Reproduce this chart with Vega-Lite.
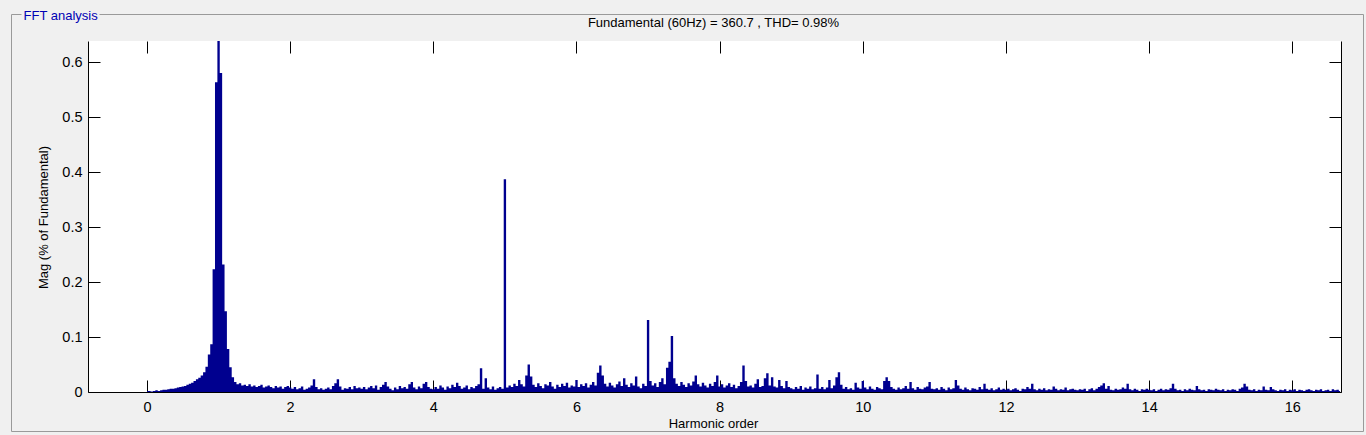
{
"$schema": "https://vega.github.io/schema/vega-lite/v6.json",
"width": 1253,
"height": 351,
"autosize": {"type": "none"},
"padding": {"left": 88, "top": 41, "right": 25, "bottom": 43},
"background": "#f0f0f0",
"config": {
  "view": {"fill": "white", "stroke": null},
  "axis": {"labelFont": "Liberation Sans", "titleFont": "Liberation Sans", "labelFontSize": 14.5, "titleFontSize": 13, "labelColor": "#000", "titleColor": "#000", "tickColor": "#000", "domainColor": "#000", "titleFontWeight": "normal", "grid": false, "tickWidth": 1, "domainWidth": 1}
},
"data": {"values": [
{"h":0,"m":0.002},{"h":0.033,"m":0.002},{"h":0.067,"m":0.001},{"h":0.1,"m":0.002},{"h":0.133,"m":0.003},{"h":0.167,"m":0.002},{"h":0.2,"m":0.003},{"h":0.233,"m":0.004},{"h":0.267,"m":0.004},{"h":0.3,"m":0.005},{"h":0.333,"m":0.006},{"h":0.367,"m":0.006},{"h":0.4,"m":0.007},{"h":0.433,"m":0.008},{"h":0.467,"m":0.009},{"h":0.5,"m":0.01},{"h":0.533,"m":0.011},{"h":0.567,"m":0.013},{"h":0.6,"m":0.015},{"h":0.633,"m":0.017},{"h":0.667,"m":0.02},{"h":0.7,"m":0.023},{"h":0.733,"m":0.026},{"h":0.767,"m":0.03},{"h":0.8,"m":0.036},{"h":0.833,"m":0.046},{"h":0.867,"m":0.068},{"h":0.9,"m":0.087},{"h":0.933,"m":0.223},{"h":0.967,"m":0.563},
{"h":1,"m":100},{"h":1.033,"m":0.58},{"h":1.067,"m":0.232},{"h":1.1,"m":0.147},{"h":1.133,"m":0.078},{"h":1.167,"m":0.045},{"h":1.2,"m":0.027},{"h":1.233,"m":0.018},{"h":1.267,"m":0.014},{"h":1.3,"m":0.016},{"h":1.333,"m":0.012},{"h":1.367,"m":0.013},{"h":1.4,"m":0.011},{"h":1.433,"m":0.014},{"h":1.467,"m":0.01},{"h":1.5,"m":0.012},{"h":1.533,"m":0.009},{"h":1.567,"m":0.011},{"h":1.6,"m":0.013},{"h":1.633,"m":0.008},{"h":1.667,"m":0.01},{"h":1.7,"m":0.012},{"h":1.733,"m":0.009},{"h":1.767,"m":0.007},{"h":1.8,"m":0.011},{"h":1.833,"m":0.008},{"h":1.867,"m":0.01},{"h":1.9,"m":0.006},{"h":1.933,"m":0.009},{"h":1.967,"m":0.011},
{"h":2,"m":0.008},{"h":2.033,"m":0.006},{"h":2.067,"m":0.009},{"h":2.1,"m":0.005},{"h":2.133,"m":0.007},{"h":2.167,"m":0.01},{"h":2.2,"m":0.004},{"h":2.233,"m":0.006},{"h":2.267,"m":0.008},{"h":2.3,"m":0.012},{"h":2.333,"m":0.023},{"h":2.367,"m":0.009},{"h":2.4,"m":0.005},{"h":2.433,"m":0.007},{"h":2.467,"m":0.004},{"h":2.5,"m":0.006},{"h":2.533,"m":0.008},{"h":2.567,"m":0.005},{"h":2.6,"m":0.011},{"h":2.633,"m":0.016},{"h":2.667,"m":0.023},{"h":2.7,"m":0.01},{"h":2.733,"m":0.004},{"h":2.767,"m":0.007},{"h":2.8,"m":0.006},{"h":2.833,"m":0.009},{"h":2.867,"m":0.005},{"h":2.9,"m":0.011},{"h":2.933,"m":0.007},{"h":2.967,"m":0.008},
{"h":3,"m":0.006},{"h":3.033,"m":0.009},{"h":3.067,"m":0.005},{"h":3.1,"m":0.008},{"h":3.133,"m":0.011},{"h":3.167,"m":0.007},{"h":3.2,"m":0.012},{"h":3.233,"m":0.004},{"h":3.267,"m":0.009},{"h":3.3,"m":0.013},{"h":3.333,"m":0.018},{"h":3.367,"m":0.01},{"h":3.4,"m":0.006},{"h":3.433,"m":0.003},{"h":3.467,"m":0.008},{"h":3.5,"m":0.005},{"h":3.533,"m":0.011},{"h":3.567,"m":0.007},{"h":3.6,"m":0.009},{"h":3.633,"m":0.006},{"h":3.667,"m":0.014},{"h":3.7,"m":0.018},{"h":3.733,"m":0.008},{"h":3.767,"m":0.005},{"h":3.8,"m":0.01},{"h":3.833,"m":0.007},{"h":3.867,"m":0.015},{"h":3.9,"m":0.018},{"h":3.933,"m":0.009},{"h":3.967,"m":0.006},
{"h":4,"m":0.005},{"h":4.033,"m":0.009},{"h":4.067,"m":0.006},{"h":4.1,"m":0.012},{"h":4.133,"m":0.008},{"h":4.167,"m":0.004},{"h":4.2,"m":0.01},{"h":4.233,"m":0.007},{"h":4.267,"m":0.013},{"h":4.3,"m":0.009},{"h":4.333,"m":0.017},{"h":4.367,"m":0.011},{"h":4.4,"m":0.006},{"h":4.433,"m":0.008},{"h":4.467,"m":0.012},{"h":4.5,"m":0.005},{"h":4.533,"m":0.009},{"h":4.567,"m":0.007},{"h":4.6,"m":0.011},{"h":4.633,"m":0.014},{"h":4.667,"m":0.043},{"h":4.7,"m":0.006},{"h":4.733,"m":0.025},{"h":4.767,"m":0.008},{"h":4.8,"m":0.005},{"h":4.833,"m":0.01},{"h":4.867,"m":0.004},{"h":4.9,"m":0.007},{"h":4.933,"m":0.009},{"h":4.967,"m":0.006},
{"h":5,"m":0.387},{"h":5.033,"m":0.008},{"h":5.067,"m":0.012},{"h":5.1,"m":0.009},{"h":5.133,"m":0.015},{"h":5.167,"m":0.011},{"h":5.2,"m":0.022},{"h":5.233,"m":0.014},{"h":5.267,"m":0.01},{"h":5.3,"m":0.03},{"h":5.333,"m":0.05},{"h":5.367,"m":0.028},{"h":5.4,"m":0.013},{"h":5.433,"m":0.009},{"h":5.467,"m":0.016},{"h":5.5,"m":0.011},{"h":5.533,"m":0.007},{"h":5.567,"m":0.014},{"h":5.6,"m":0.012},{"h":5.633,"m":0.018},{"h":5.667,"m":0.01},{"h":5.7,"m":0.006},{"h":5.733,"m":0.013},{"h":5.767,"m":0.009},{"h":5.8,"m":0.015},{"h":5.833,"m":0.011},{"h":5.867,"m":0.017},{"h":5.9,"m":0.008},{"h":5.933,"m":0.012},{"h":5.967,"m":0.01},
{"h":6,"m":0.022},{"h":6.033,"m":0.009},{"h":6.067,"m":0.014},{"h":6.1,"m":0.011},{"h":6.133,"m":0.016},{"h":6.167,"m":0.008},{"h":6.2,"m":0.013},{"h":6.233,"m":0.018},{"h":6.267,"m":0.012},{"h":6.3,"m":0.035},{"h":6.333,"m":0.048},{"h":6.367,"m":0.03},{"h":6.4,"m":0.015},{"h":6.433,"m":0.01},{"h":6.467,"m":0.017},{"h":6.5,"m":0.012},{"h":6.533,"m":0.008},{"h":6.567,"m":0.014},{"h":6.6,"m":0.019},{"h":6.633,"m":0.011},{"h":6.667,"m":0.025},{"h":6.7,"m":0.013},{"h":6.733,"m":0.009},{"h":6.767,"m":0.016},{"h":6.8,"m":0.012},{"h":6.833,"m":0.028},{"h":6.867,"m":0.01},{"h":6.9,"m":0.007},{"h":6.933,"m":0.015},{"h":6.967,"m":0.011},
{"h":7,"m":0.131},{"h":7.033,"m":0.02},{"h":7.067,"m":0.012},{"h":7.1,"m":0.016},{"h":7.133,"m":0.009},{"h":7.167,"m":0.018},{"h":7.2,"m":0.025},{"h":7.233,"m":0.014},{"h":7.267,"m":0.044},{"h":7.3,"m":0.055},{"h":7.333,"m":0.102},{"h":7.367,"m":0.025},{"h":7.4,"m":0.015},{"h":7.433,"m":0.011},{"h":7.467,"m":0.018},{"h":7.5,"m":0.013},{"h":7.533,"m":0.009},{"h":7.567,"m":0.016},{"h":7.6,"m":0.012},{"h":7.633,"m":0.019},{"h":7.667,"m":0.03},{"h":7.7,"m":0.014},{"h":7.733,"m":0.01},{"h":7.767,"m":0.017},{"h":7.8,"m":0.012},{"h":7.833,"m":0.008},{"h":7.867,"m":0.015},{"h":7.9,"m":0.011},{"h":7.933,"m":0.018},{"h":7.967,"m":0.03},
{"h":8,"m":0.01},{"h":8.033,"m":0.014},{"h":8.067,"m":0.008},{"h":8.1,"m":0.012},{"h":8.133,"m":0.016},{"h":8.167,"m":0.009},{"h":8.2,"m":0.013},{"h":8.233,"m":0.007},{"h":8.267,"m":0.011},{"h":8.3,"m":0.018},{"h":8.333,"m":0.048},{"h":8.367,"m":0.02},{"h":8.4,"m":0.01},{"h":8.433,"m":0.012},{"h":8.467,"m":0.008},{"h":8.5,"m":0.015},{"h":8.533,"m":0.023},{"h":8.567,"m":0.009},{"h":8.6,"m":0.011},{"h":8.633,"m":0.025},{"h":8.667,"m":0.034},{"h":8.7,"m":0.012},{"h":8.733,"m":0.027},{"h":8.767,"m":0.01},{"h":8.8,"m":0.008},{"h":8.833,"m":0.022},{"h":8.867,"m":0.011},{"h":8.9,"m":0.007},{"h":8.933,"m":0.02},{"h":8.967,"m":0.009},
{"h":9,"m":0.007},{"h":9.033,"m":0.005},{"h":9.067,"m":0.009},{"h":9.1,"m":0.006},{"h":9.133,"m":0.011},{"h":9.167,"m":0.004},{"h":9.2,"m":0.008},{"h":9.233,"m":0.006},{"h":9.267,"m":0.01},{"h":9.3,"m":0.005},{"h":9.333,"m":0.007},{"h":9.367,"m":0.032},{"h":9.4,"m":0.006},{"h":9.433,"m":0.009},{"h":9.467,"m":0.005},{"h":9.5,"m":0.008},{"h":9.533,"m":0.022},{"h":9.567,"m":0.007},{"h":9.6,"m":0.012},{"h":9.633,"m":0.027},{"h":9.667,"m":0.036},{"h":9.7,"m":0.013},{"h":9.733,"m":0.006},{"h":9.767,"m":0.009},{"h":9.8,"m":0.005},{"h":9.833,"m":0.007},{"h":9.867,"m":0.004},{"h":9.9,"m":0.017},{"h":9.933,"m":0.008},{"h":9.967,"m":0.006},
{"h":10,"m":0.02},{"h":10.033,"m":0.008},{"h":10.067,"m":0.005},{"h":10.1,"m":0.01},{"h":10.133,"m":0.006},{"h":10.167,"m":0.004},{"h":10.2,"m":0.009},{"h":10.233,"m":0.007},{"h":10.267,"m":0.005},{"h":10.3,"m":0.02},{"h":10.333,"m":0.027},{"h":10.367,"m":0.02},{"h":10.4,"m":0.009},{"h":10.433,"m":0.006},{"h":10.467,"m":0.004},{"h":10.5,"m":0.008},{"h":10.533,"m":0.005},{"h":10.567,"m":0.007},{"h":10.6,"m":0.011},{"h":10.633,"m":0.006},{"h":10.667,"m":0.018},{"h":10.7,"m":0.007},{"h":10.733,"m":0.004},{"h":10.767,"m":0.009},{"h":10.8,"m":0.006},{"h":10.833,"m":0.005},{"h":10.867,"m":0.008},{"h":10.9,"m":0.01},{"h":10.933,"m":0.018},{"h":10.967,"m":0.006},
{"h":11,"m":0.005},{"h":11.033,"m":0.007},{"h":11.067,"m":0.004},{"h":11.1,"m":0.009},{"h":11.133,"m":0.006},{"h":11.167,"m":0.003},{"h":11.2,"m":0.008},{"h":11.233,"m":0.005},{"h":11.267,"m":0.007},{"h":11.3,"m":0.022},{"h":11.333,"m":0.012},{"h":11.367,"m":0.006},{"h":11.4,"m":0.004},{"h":11.433,"m":0.008},{"h":11.467,"m":0.005},{"h":11.5,"m":0.003},{"h":11.533,"m":0.007},{"h":11.567,"m":0.006},{"h":11.6,"m":0.004},{"h":11.633,"m":0.009},{"h":11.667,"m":0.005},{"h":11.7,"m":0.015},{"h":11.733,"m":0.006},{"h":11.767,"m":0.004},{"h":11.8,"m":0.007},{"h":11.833,"m":0.003},{"h":11.867,"m":0.005},{"h":11.9,"m":0.008},{"h":11.933,"m":0.004},{"h":11.967,"m":0.006},
{"h":12,"m":0.004},{"h":12.033,"m":0.006},{"h":12.067,"m":0.003},{"h":12.1,"m":0.005},{"h":12.133,"m":0.007},{"h":12.167,"m":0.004},{"h":12.2,"m":0.002},{"h":12.233,"m":0.006},{"h":12.267,"m":0.005},{"h":12.3,"m":0.009},{"h":12.333,"m":0.006},{"h":12.367,"m":0.015},{"h":12.4,"m":0.005},{"h":12.433,"m":0.003},{"h":12.467,"m":0.006},{"h":12.5,"m":0.004},{"h":12.533,"m":0.007},{"h":12.567,"m":0.003},{"h":12.6,"m":0.005},{"h":12.633,"m":0.004},{"h":12.667,"m":0.01},{"h":12.7,"m":0.006},{"h":12.733,"m":0.003},{"h":12.767,"m":0.005},{"h":12.8,"m":0.004},{"h":12.833,"m":0.008},{"h":12.867,"m":0.003},{"h":12.9,"m":0.005},{"h":12.933,"m":0.006},{"h":12.967,"m":0.004},
{"h":13,"m":0.003},{"h":13.033,"m":0.005},{"h":13.067,"m":0.004},{"h":13.1,"m":0.006},{"h":13.133,"m":0.002},{"h":13.167,"m":0.005},{"h":13.2,"m":0.007},{"h":13.233,"m":0.003},{"h":13.267,"m":0.006},{"h":13.3,"m":0.009},{"h":13.333,"m":0.012},{"h":13.367,"m":0.016},{"h":13.4,"m":0.006},{"h":13.433,"m":0.011},{"h":13.467,"m":0.004},{"h":13.5,"m":0.003},{"h":13.533,"m":0.006},{"h":13.567,"m":0.004},{"h":13.6,"m":0.005},{"h":13.633,"m":0.008},{"h":13.667,"m":0.006},{"h":13.7,"m":0.015},{"h":13.733,"m":0.005},{"h":13.767,"m":0.003},{"h":13.8,"m":0.006},{"h":13.833,"m":0.004},{"h":13.867,"m":0.002},{"h":13.9,"m":0.005},{"h":13.933,"m":0.004},{"h":13.967,"m":0.006},
{"h":14,"m":0.004},{"h":14.033,"m":0.003},{"h":14.067,"m":0.005},{"h":14.1,"m":0.002},{"h":14.133,"m":0.004},{"h":14.167,"m":0.006},{"h":14.2,"m":0.003},{"h":14.233,"m":0.005},{"h":14.267,"m":0.004},{"h":14.3,"m":0.007},{"h":14.333,"m":0.015},{"h":14.367,"m":0.006},{"h":14.4,"m":0.003},{"h":14.433,"m":0.004},{"h":14.467,"m":0.002},{"h":14.5,"m":0.005},{"h":14.533,"m":0.003},{"h":14.567,"m":0.006},{"h":14.6,"m":0.004},{"h":14.633,"m":0.003},{"h":14.667,"m":0.011},{"h":14.7,"m":0.005},{"h":14.733,"m":0.003},{"h":14.767,"m":0.004},{"h":14.8,"m":0.002},{"h":14.833,"m":0.005},{"h":14.867,"m":0.004},{"h":14.9,"m":0.003},{"h":14.933,"m":0.006},{"h":14.967,"m":0.004},
{"h":15,"m":0.003},{"h":15.033,"m":0.005},{"h":15.067,"m":0.002},{"h":15.1,"m":0.004},{"h":15.133,"m":0.003},{"h":15.167,"m":0.005},{"h":15.2,"m":0.004},{"h":15.233,"m":0.002},{"h":15.267,"m":0.006},{"h":15.3,"m":0.008},{"h":15.333,"m":0.015},{"h":15.367,"m":0.01},{"h":15.4,"m":0.004},{"h":15.433,"m":0.003},{"h":15.467,"m":0.005},{"h":15.5,"m":0.002},{"h":15.533,"m":0.004},{"h":15.567,"m":0.003},{"h":15.6,"m":0.01},{"h":15.633,"m":0.004},{"h":15.667,"m":0.003},{"h":15.7,"m":0.009},{"h":15.733,"m":0.005},{"h":15.767,"m":0.003},{"h":15.8,"m":0.002},{"h":15.833,"m":0.004},{"h":15.867,"m":0.003},{"h":15.9,"m":0.005},{"h":15.933,"m":0.002},{"h":15.967,"m":0.004},
{"h":16,"m":0.003},{"h":16.033,"m":0.005},{"h":16.067,"m":0.002},{"h":16.1,"m":0.004},{"h":16.133,"m":0.003},{"h":16.167,"m":0.002},{"h":16.2,"m":0.004},{"h":16.233,"m":0.005},{"h":16.267,"m":0.003},{"h":16.3,"m":0.002},{"h":16.333,"m":0.004},{"h":16.367,"m":0.003},{"h":16.4,"m":0.005},{"h":16.433,"m":0.002},{"h":16.467,"m":0.003},{"h":16.5,"m":0.004},{"h":16.533,"m":0.002},{"h":16.567,"m":0.005},{"h":16.6,"m":0.003},{"h":16.633,"m":0.004},{"h":16.667,"m":0.002}
]},
"layer": [
  {
    "mark": {"type": "area", "interpolate": "step", "color": "#00008f", "clip": true},
    "encoding": {
      "x": {"field": "h", "type": "quantitative",
        "scale": {"domain": [-0.824, 16.68], "nice": false, "zero": false, "padding": 0},
        "axis": {"orient": "bottom", "values": [0,2,4,6,8,10,12,14,16], "tickSize": -12, "labelPadding": 20, "title": "Harmonic order", "titleX": 625, "titleY": 35.5, "titleAlign": "center", "titleBaseline": "alphabetic"}},
      "y": {"field": "m", "type": "quantitative",
        "scale": {"domain": [0, 0.6382], "nice": false, "zero": true},
        "axis": {"orient": "left", "values": [0,0.1,0.2,0.3,0.4,0.5,0.6], "format": ".1~f", "tickSize": -12, "labelPadding": 18, "title": "Mag (% of Fundamental)", "titleX": -41, "titleY": 176, "titleAngle": -90, "titleAlign": "center", "titleBaseline": "alphabetic"}}
    }
  },
  {
    "transform": [{"filter": "datum.h == 0"}],
    "mark": {"type": "point", "opacity": 0},
    "encoding": {
      "x": {"field": "h", "type": "quantitative",
        "scale": {"domain": [-0.824, 16.68], "nice": false, "zero": false, "padding": 0},
        "axis": {"orient": "top", "values": [0,2,4,6,8,10,12,14,16], "tickSize": -12, "labels": false, "domain": false, "title": "Fundamental (60Hz) = 360.7 , THD= 0.98%", "titleX": 625, "titleY": -15, "titleAlign": "center", "titleBaseline": "alphabetic"}},
      "y": {"field": "m", "type": "quantitative",
        "scale": {"domain": [0, 0.6382], "nice": false, "zero": true},
        "axis": {"orient": "right", "values": [0,0.1,0.2,0.3,0.4,0.5,0.6], "tickSize": -12, "labels": false, "title": null}}
    }
  },
  {
    "transform": [{"filter": "datum.h == 0"}],
    "mark": {"type": "point", "opacity": 0},
    "encoding": {
      "x": {"field": "h", "type": "quantitative",
        "scale": {"domain": [0, 1], "range": [-77, 1275], "nice": false, "zero": false},
        "axis": {"orient": "bottom", "offset": 39, "ticks": false, "labels": false, "title": null, "domainColor": "#9a9a9a"}},
      "y": {"field": "m", "type": "quantitative",
        "scale": {"domain": [0, 1], "range": [390, -27], "nice": false, "zero": false},
        "axis": {"orient": "left", "offset": 77, "ticks": false, "labels": false, "title": null, "domainColor": "#9a9a9a"}}
    }
  },
  {
    "transform": [{"filter": "datum.h == 0"}],
    "mark": {"type": "point", "opacity": 0},
    "encoding": {
      "x": {"field": "h", "type": "quantitative",
        "scale": {"domain": [0, 1], "range": [-77, 1275], "nice": false, "zero": false},
        "axis": {"orient": "top", "offset": 27, "ticks": false, "labels": false, "domainColor": "#9a9a9a", "domainDash": [10, 78, 2000, 10], "title": "FFT analysis", "titleX": -65, "titleY": 5.5, "titleAlign": "left", "titleBaseline": "alphabetic", "titleColor": "#0000b4", "titleFontSize": 13}},
      "y": {"field": "m", "type": "quantitative",
        "scale": {"domain": [0, 1], "range": [390, -27], "nice": false, "zero": false},
        "axis": {"orient": "right", "offset": 22, "ticks": false, "labels": false, "title": null, "domainColor": "#9a9a9a"}}
    }
  }
],
"resolve": {"scale": {"x": "independent", "y": "independent"}, "axis": {"x": "independent", "y": "independent"}}
}
